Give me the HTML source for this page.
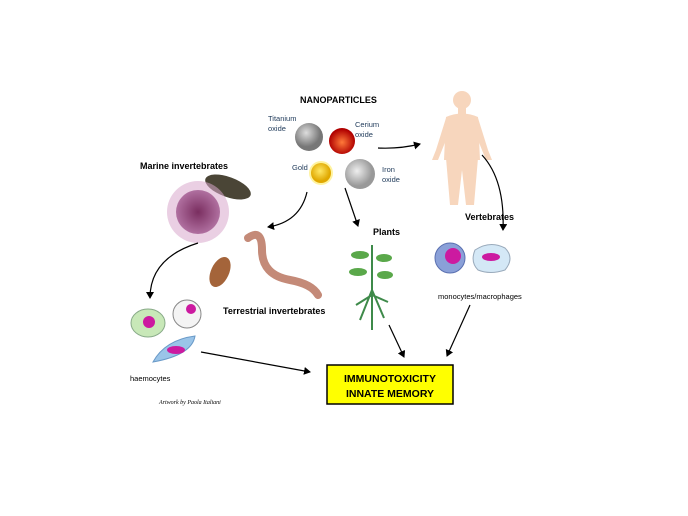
<!DOCTYPE html>
<html><head><style>
body{margin:0;background:#fff;}
svg{display:block;font-family:"Liberation Sans",sans-serif;}
</style></head><body>
<svg width="688" height="516" viewBox="0 0 688 516" xmlns="http://www.w3.org/2000/svg">
<defs>
<marker id="a" markerWidth="8" markerHeight="8" refX="6" refY="4" orient="auto" markerUnits="userSpaceOnUse"><path d="M0,0 L7,4 L0,8 z" fill="#000"/></marker>
<radialGradient id="gr" cx="40%" cy="35%"><stop offset="0" stop-color="#ddd"/><stop offset="1" stop-color="#777"/></radialGradient>
<radialGradient id="rd" cx="50%" cy="55%"><stop offset="0" stop-color="#ff7a3a"/><stop offset="1" stop-color="#b00000"/></radialGradient>
<radialGradient id="gd" cx="45%" cy="40%"><stop offset="0" stop-color="#ffe866"/><stop offset="1" stop-color="#e0a800"/></radialGradient>
<radialGradient id="lg" cx="40%" cy="40%"><stop offset="0" stop-color="#eee"/><stop offset="1" stop-color="#999"/></radialGradient>
<radialGradient id="ur" cx="50%" cy="50%"><stop offset="0" stop-color="#7a2e60"/><stop offset="1" stop-color="#b070a0"/></radialGradient>
</defs>
<g font-weight="bold" font-size="9" fill="#000">
<text x="300" y="103">NANOPARTICLES</text>
<text x="140" y="169">Marine invertebrates</text>
<text x="465" y="220">Vertebrates</text>
<text x="373" y="235">Plants</text>
<text x="223" y="314">Terrestrial invertebrates</text>
</g>
<g font-size="7.5" fill="#1f3a5a">
<text x="268" y="121">Titanium</text><text x="268" y="131">oxide</text>
<text x="355" y="127">Cerium</text><text x="355" y="137">oxide</text>
<text x="292" y="170">Gold</text>
<text x="382" y="172">Iron</text><text x="382" y="182">oxide</text>
</g>
<circle cx="309" cy="137" r="14" fill="url(#gr)"/>
<circle cx="342" cy="141" r="13" fill="url(#rd)"/>
<circle cx="321" cy="173" r="12" fill="#fff3a0"/>
<circle cx="321" cy="173" r="10" fill="url(#gd)"/>
<circle cx="360" cy="174" r="15" fill="url(#lg)"/>
<g fill="#f7d6bd">
<circle cx="462" cy="100" r="9"/>
<rect x="458" y="107" width="8" height="8"/>
<path d="M446,117 Q462,110 478,117 L480,160 L444,160 Z"/>
<path d="M446,118 L436,150 L432,160 L438,160 L446,140 Z"/>
<path d="M478,118 L488,150 L492,160 L486,160 L478,140 Z"/>
<path d="M446,158 L478,158 L474,205 L466,205 L462,170 L458,205 L450,205 Z"/>
</g>
<circle cx="450" cy="258" r="15" fill="#8aa0d8" stroke="#5a70b0"/>
<circle cx="453" cy="256" r="8" fill="#cc1aa0"/>
<path d="M475,250 Q490,240 505,248 Q515,258 505,270 Q490,275 478,270 Q470,262 475,250Z" fill="#d4e8f6" stroke="#9ab"/>
<ellipse cx="491" cy="257" rx="9" ry="4" fill="#cc1aa0"/>
<text x="438" y="299" font-size="7.5" fill="#000">monocytes/macrophages</text>
<ellipse cx="228" cy="187" rx="24" ry="10" transform="rotate(20 228 187)" fill="#4a4536"/>
<circle cx="198" cy="212" r="31" fill="#d8a8cc" opacity="0.55"/>
<circle cx="198" cy="212" r="22" fill="url(#ur)"/>
<path d="M248,238 Q262,228 262,250 Q262,275 290,280 Q312,284 318,295" fill="none" stroke="#c48a78" stroke-width="8" stroke-linecap="round"/>
<ellipse cx="220" cy="272" rx="9" ry="16" transform="rotate(25 220 272)" fill="#a4643a"/>
<g stroke="#3e8a4a" stroke-width="2" fill="none">
<path d="M372,245 L372,330"/>
<path d="M372,290 L360,320 M372,290 L384,318 M372,295 L356,305 M372,295 L388,302"/>
</g>
<g fill="#5aa84a">
<ellipse cx="360" cy="255" rx="9" ry="4"/><ellipse cx="384" cy="258" rx="8" ry="4"/>
<ellipse cx="358" cy="272" rx="9" ry="4"/><ellipse cx="385" cy="275" rx="8" ry="4"/>
</g>
<ellipse cx="148" cy="323" rx="17" ry="14" fill="#c8e8b8" stroke="#8a8"/>
<circle cx="149" cy="322" r="6" fill="#cc1aa0"/>
<circle cx="187" cy="314" r="14" fill="#f4f4f4" stroke="#888"/>
<circle cx="191" cy="309" r="5" fill="#cc1aa0"/>
<path d="M153,362 Q165,340 195,336 Q192,355 153,362Z" fill="#9ac4e8" stroke="#6a9ac8"/>
<ellipse cx="176" cy="350" rx="9" ry="4" fill="#cc1aa0"/>
<text x="130" y="381" font-size="7.5" fill="#000">haemocytes</text>
<text x="159" y="404" font-size="6" font-style="italic" font-family="Liberation Serif,serif" fill="#000">Artwork by Paola Italiani</text>
<g stroke="#000" stroke-width="1.2" fill="none" marker-end="url(#a)">
<path d="M378,148 Q400,149 420,144"/>
<path d="M307,192 Q300,222 268,227"/>
<path d="M345,188 L358,226"/>
<path d="M482,155 Q505,180 503,230"/>
<path d="M198,243 Q150,258 150,298"/>
<path d="M201,352 L310,372"/>
<path d="M389,325 L404,357"/>
<path d="M470,305 L447,356"/>
</g>
<rect x="327" y="365" width="126" height="39" fill="#ffff00" stroke="#000" stroke-width="1.5"/>
<text x="390" y="382" font-size="10.5" font-weight="bold" text-anchor="middle">IMMUNOTOXICITY</text>
<text x="390" y="397" font-size="10.5" font-weight="bold" text-anchor="middle">INNATE MEMORY</text>
</svg>
</body></html>
